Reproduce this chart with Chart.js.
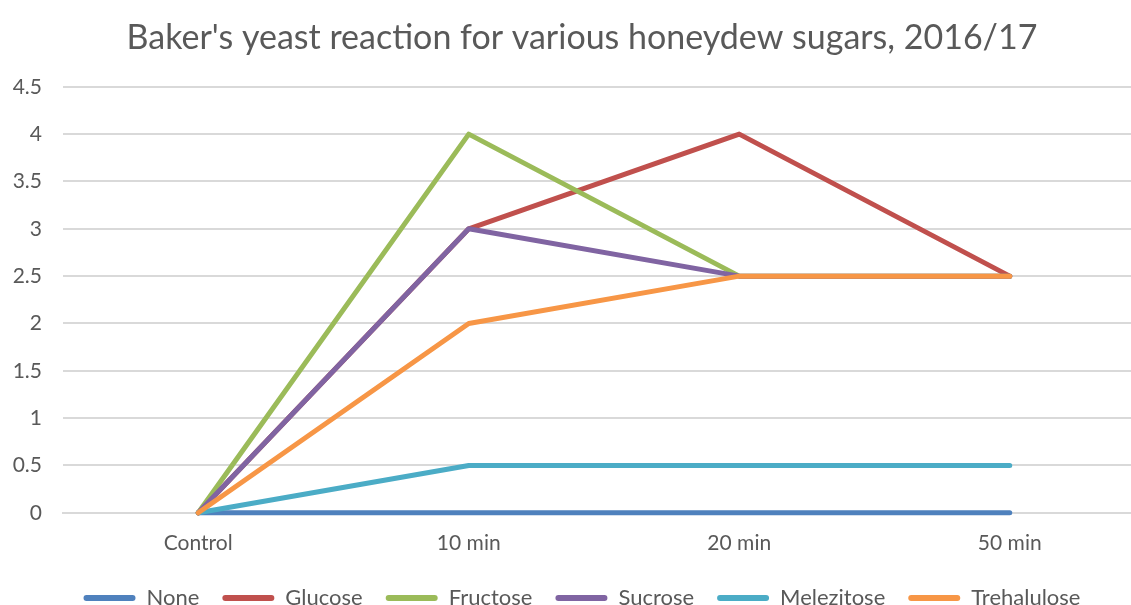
<!DOCTYPE html>
<html>
<head>
<meta charset="utf-8">
<script src="https://cdn.jsdelivr.net/npm/chart.js@4/dist/chart.umd.min.js"></script>
<style>
  html, body { margin: 0; padding: 0; background: #fff; overflow: hidden; }
</style>
</head>
<body>
<canvas id="yeastChart" width="1165" height="619"></canvas>
<script>
// categories along the x axis
var categories = ["Control", "10 min", "20 min", "50 min"];

// reaction values per sugar
var noneValues = [0, 0, 0, 0];
var glucoseValues = [0, 3, 4, 2.5];
var fructoseValues = [0, 4, 2.5, 2.5];
var sucroseValues = [0, 3, 2.5, 2.5];
var melezitoseValues = [0, 0.5, 0.5, 0.5];
var trehaluloseValues = [0, 2, 2.5, 2.5];

var seriesNames = ["None", "Glucose", "Fructose", "Sucrose", "Melezitose", "Trehalulose"];
var seriesValues = [noneValues, glucoseValues, fructoseValues, sucroseValues, melezitoseValues, trehaluloseValues];
var seriesColors = ["#4F81BD", "#C0504D", "#9BBB59", "#8064A2", "#4BACC6", "#F79646"];

var textColor = "#595959";
var gridColor = "#D9D9D9";
var fontFamily = "Lato, 'Open Sans', sans-serif";

var datasets = [];
for (var i = 0; i < seriesNames.length; i++) {
    datasets.push({
        label: seriesNames[i],
        data: seriesValues[i],
        borderColor: seriesColors[i],
        backgroundColor: seriesColors[i],
        borderWidth: 5,
        borderCapStyle: "round",
        borderJoinStyle: "round",
        pointRadius: 0,
        tension: 0,
        clip: 8,
        // later series drawn on top, like the original
        order: seriesNames.length - i
    });
}

// let the y labels spill into the left padding instead of being clipped
var unclipYLabels = {
    id: "unclipYLabels",
    afterLayout: function (chart) { chart.scales.y.left = 0; }
};

var ctx = document.getElementById("yeastChart");
var yeastChart = new Chart(ctx, {
    type: "line",
    data: { labels: categories, datasets: datasets },
    plugins: [unclipYLabels],
    options: {
        responsive: false,
        animation: false,
        layout: { padding: { left: 19, right: 20, top: 0, bottom: 0 } },
        plugins: {
            title: {
                display: true,
                text: "Baker's yeast reaction for various honeydew sugars, 2016/17",
                color: textColor,
                font: { family: fontFamily, size: 34, weight: "normal" },
                padding: { top: 18, bottom: 28 }
            },
            legend: {
                position: "bottom",
                labels: {
                    color: textColor,
                    font: { family: fontFamily, size: 22 },
                    boxWidth: 52,
                    boxHeight: 6,
                    padding: 23,
                    useBorderRadius: true,
                    borderRadius: 3,
                    sort: function (a, b) { return a.datasetIndex - b.datasetIndex; },
                    generateLabels: function (chart) {
                        var items = Chart.defaults.plugins.legend.labels.generateLabels(chart);
                        items.forEach(function (it) { it.lineWidth = 0; });
                        return items;
                    }
                }
            },
            tooltip: { enabled: false }
        },
        scales: {
            x: {
                offset: true,
                grid: { display: false, drawTicks: false },
                border: { color: gridColor, width: 2 },
                ticks: { color: textColor, font: { family: fontFamily, size: 21 }, padding: 18 },
                afterFit: function (axis) { axis.height -= 10; }
            },
            y: {
                min: 0,
                max: 4.5,
                grid: { color: gridColor, lineWidth: 2, drawTicks: false },
                border: { display: false },
                ticks: {
                    stepSize: 0.5,
                    color: textColor,
                    font: { family: fontFamily, size: 21 },
                    padding: 21,
                    callback: function (value) { return String(value); }
                },
                afterFit: function (axis) { axis.width = 44; }
            }
        }
    }
});
</script>
</body>
</html>
